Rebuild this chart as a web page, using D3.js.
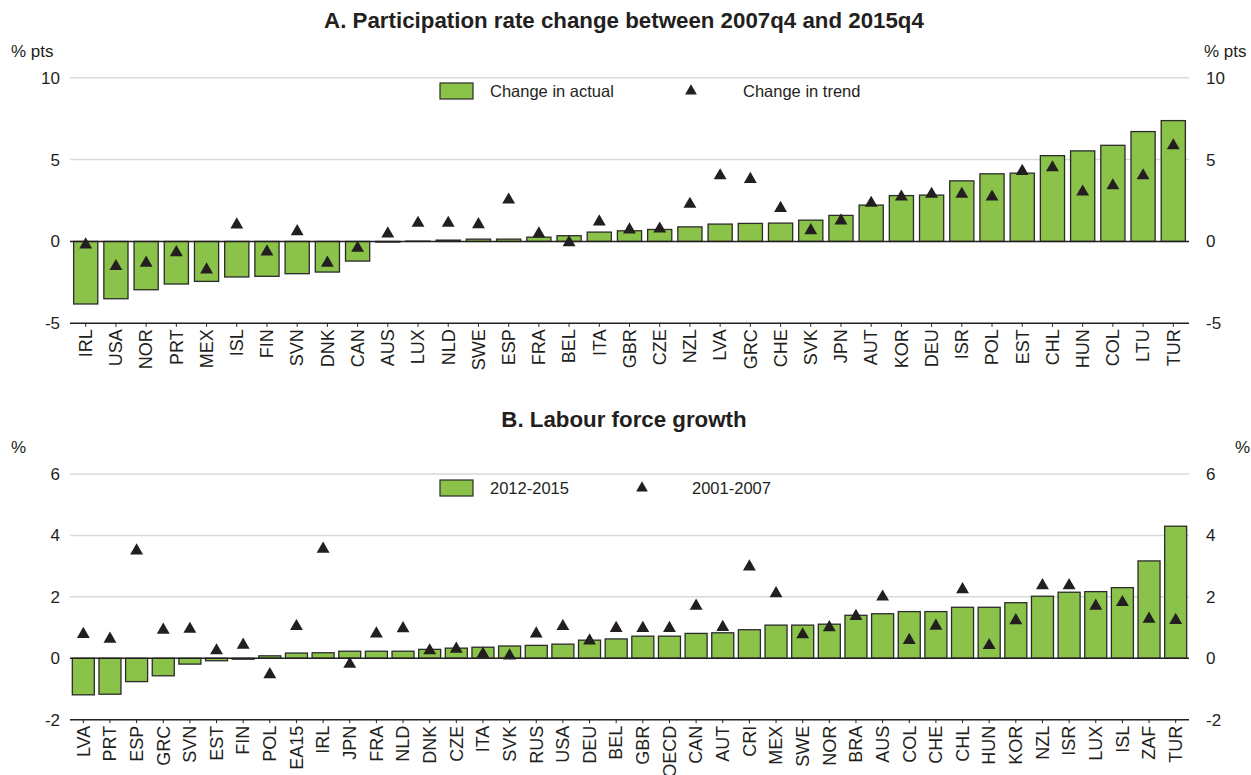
<!DOCTYPE html>
<html>
<head>
<meta charset="utf-8">
<script src="https://cdn.jsdelivr.net/npm/d3@7"></script>
<style>
  html, body { margin: 0; padding: 0; background: #fff; }
  svg { display: block; font-family: "Liberation Sans", Arial, sans-serif; }
</style>
</head>
<body>
<svg id="chart" width="1251" height="775"></svg>
<script>
// Panel A: participation rate change, 2007q4 to 2015q4 (% pts)
const countriesA = ["IRL","USA","NOR","PRT","MEX","ISL","FIN","SVN","DNK","CAN","AUS","LUX","NLD","SWE","ESP","FRA","BEL","ITA","GBR","CZE","NZL","LVA","GRC","CHE","SVK","JPN","AUT","KOR","DEU","ISR","POL","EST","CHL","HUN","COL","LTU","TUR"];
const actualA = [-3.82,-3.5,-2.95,-2.6,-2.44,-2.17,-2.13,-1.97,-1.87,-1.2,-0.04,0.02,0.08,0.14,0.14,0.26,0.35,0.57,0.65,0.73,0.89,1.06,1.1,1.12,1.3,1.59,2.22,2.8,2.83,3.7,4.13,4.17,5.24,5.53,5.87,6.71,7.38];
const trendA = [-0.2,-1.52,-1.32,-0.67,-1.73,1.02,-0.63,0.61,-1.32,-0.41,0.47,1.12,1.12,1.04,2.54,0.47,-0.06,1.2,0.71,0.77,2.28,4.02,3.8,2.03,0.67,1.26,2.34,2.72,2.89,2.89,2.72,4.29,4.51,3.03,3.41,4.02,5.85];
const ticksA = [-5, 0, 5, 10];

// Panel B: labour force growth (%)
const countriesB = ["LVA","PRT","ESP","GRC","SVN","EST","FIN","POL","EA15","IRL","JPN","FRA","NLD","DNK","CZE","ITA","SVK","RUS","USA","DEU","BEL","GBR","OECD","CAN","AUT","CRI","MEX","SWE","NOR","BRA","AUS","COL","CHE","CHL","HUN","KOR","NZL","ISR","LUX","ISL","ZAF","TUR"];
const recentB = [-1.19,-1.17,-0.76,-0.57,-0.19,-0.08,-0.03,0.08,0.17,0.18,0.23,0.23,0.23,0.29,0.33,0.36,0.4,0.42,0.46,0.59,0.63,0.72,0.72,0.81,0.83,0.93,1.08,1.08,1.11,1.4,1.45,1.52,1.52,1.66,1.66,1.81,2.02,2.15,2.17,2.3,3.17,4.3];
const earlierB = [0.78,0.63,3.5,0.92,0.95,0.25,0.43,-0.53,1.04,3.56,-0.19,0.8,0.97,0.25,0.3,0.14,0.08,0.8,1.04,0.57,0.98,0.98,0.98,1.7,1.01,2.98,2.11,0.77,1.0,1.37,2.0,0.59,1.05,2.24,0.42,1.23,2.37,2.37,1.7,1.82,1.28,1.24];
const ticksB = [-2, 0, 2, 4, 6];

const svg = d3.select("#chart");
const BAR_FILL = "#8bc34a";
const BAR_STROKE = "#2b2b2b";
const TEXT = "#231f20";
const FONT = "Liberation Sans, Arial, sans-serif";
const left = 70, right = 1189;

function panel(cfg) {
  const g = svg.append("g");
  const x = d3.scaleBand().domain(cfg.cats).range([left, right])
    .paddingInner(cfg.padIn).paddingOuter(cfg.padOut);
  const y = d3.scaleLinear().domain(cfg.domain).range([cfg.bottom, cfg.top]);
  const rows = cfg.cats.map((c, i) => ({ c, bar: cfg.bars[i], mark: cfg.marks[i] }));

  // title
  g.append("text").attr("x", 624).attr("y", cfg.titleY)
    .attr("text-anchor", "middle").attr("font-size", 22.3).attr("font-weight", "bold")
    .attr("fill", TEXT).text(cfg.title);

  // unit labels
  g.append("text").attr("x", 11).attr("y", cfg.unitY).attr("font-size", 17).attr("fill", TEXT).text(cfg.unit);
  g.append("text").attr("x", cfg.unitRightX).attr("y", cfg.unitY).attr("font-size", 17).attr("fill", TEXT).text(cfg.unit);

  // horizontal gridlines above zero
  g.selectAll("line.grid").data(cfg.ticks.filter(t => t > 0)).join("line")
    .attr("x1", left).attr("x2", right)
    .attr("y1", d => y(d)).attr("y2", d => y(d))
    .attr("stroke", "#d9d9d9").attr("stroke-width", 1.5);

  // y tick labels on both sides
  const fmt = d => String(d);
  const yl = d3.axisLeft(y).tickValues(cfg.ticks).tickSize(0).tickPadding(10).tickFormat(fmt);
  const yr = d3.axisRight(y).tickValues(cfg.ticks).tickSize(0).tickPadding(17).tickFormat(fmt);
  [g.append("g").attr("transform", `translate(${left},0)`).call(yl),
   g.append("g").attr("transform", `translate(${right},0)`).call(yr)].forEach(a => {
    a.select(".domain").remove();
    a.selectAll("text").attr("font-size", 17).attr("fill", TEXT).attr("font-family", FONT);
  });

  // bars
  g.selectAll("rect.bar").data(rows).join("rect")
    .attr("x", d => x(d.c))
    .attr("width", x.bandwidth())
    .attr("y", d => y(Math.max(0, d.bar)))
    .attr("height", d => Math.abs(y(d.bar) - y(0)))
    .attr("fill", BAR_FILL).attr("stroke", BAR_STROKE).attr("stroke-width", 1.3);

  // zero line
  g.append("line").attr("x1", left).attr("x2", right).attr("y1", y(0)).attr("y2", y(0))
    .attr("stroke", "#231f20").attr("stroke-width", 1.5);

  // bottom category axis
  const xa = d3.axisBottom(x).tickSize(3.5).tickPadding(4);
  const ax = g.append("g").attr("transform", `translate(0,${y(cfg.domain[0])})`).call(xa);
  ax.select(".domain").attr("d", `M${left},0H${right}`).attr("stroke", "#231f20").attr("stroke-width", 1.5);
  ax.selectAll(".tick line").attr("stroke", "#231f20");
  ax.selectAll("text")
    .attr("font-size", 18).attr("fill", TEXT).attr("font-family", FONT)
    .attr("transform", "rotate(-90)")
    .attr("text-anchor", "end").attr("dy", "0.35em").attr("x", -6).attr("y", 0);

  // triangle markers
  const tri = d3.symbol().type(d3.symbolTriangle).size(72);
  g.selectAll("path.mark").data(rows).join("path")
    .attr("d", tri)
    .attr("transform", d => `translate(${x(d.c) + x.bandwidth() / 2},${y(d.mark)})`)
    .attr("fill", "#231f20");

  // legend
  const lg = g.append("g");
  lg.append("rect").attr("x", 440).attr("y", cfg.legendY - 8).attr("width", 33).attr("height", 16)
    .attr("fill", BAR_FILL).attr("stroke", BAR_STROKE).attr("stroke-width", 1.2);
  lg.append("text").attr("x", 490).attr("y", cfg.legendY).attr("dy", "0.35em")
    .attr("font-size", 16.5).attr("fill", TEXT).text(cfg.legend[0]);
  lg.append("path").attr("d", d3.symbol().type(d3.symbolTriangle).size(60))
    .attr("transform", `translate(${cfg.legendTriX},${cfg.legendY})`).attr("fill", "#231f20");
  lg.append("text").attr("x", cfg.legendTextX).attr("y", cfg.legendY).attr("dy", "0.35em")
    .attr("font-size", 16.5).attr("fill", TEXT).text(cfg.legend[1]);
}

panel({
  title: "A. Participation rate change between 2007q4 and 2015q4", titleY: 28,
  unit: "% pts", unitY: 57, unitRightX: 1204,
  cats: countriesA, bars: actualA, marks: trendA, ticks: ticksA,
  domain: [-5, 10], top: 77.7, bottom: 323.3, padIn: 0.2, padOut: 0.12,
  legend: ["Change in actual", "Change in trend"], legendY: 91, legendTriX: 691, legendTextX: 743
});

panel({
  title: "B. Labour force growth", titleY: 427,
  unit: "%", unitY: 453, unitRightX: 1235,
  cats: countriesB, bars: recentB, marks: earlierB, ticks: ticksB,
  domain: [-2, 6], top: 474, bottom: 719.7, padIn: 0.174, padOut: 0.087,
  legend: ["2012-2015", "2001-2007"], legendY: 488, legendTriX: 642, legendTextX: 692
});
</script>
</body>
</html>
